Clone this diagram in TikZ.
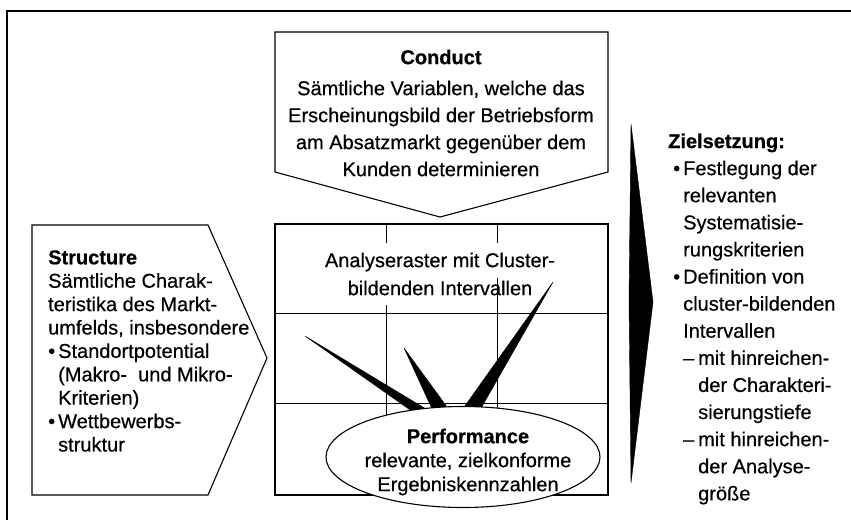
\documentclass[tikz,border=0pt]{standalone}
\usepackage{fontspec}
\setmainfont{Liberation Sans}[FakeBold=0.5, BoldFeatures={FakeBold=0.6}]
\usepackage{tikz}
\usetikzlibrary{shapes.geometric, positioning}

\begin{document}
\begin{tikzpicture}[x=1pt, y=-1pt]
				% Styles
				\tikzstyle{outline} = [draw, line width=1.1pt, line join=miter]
				\tikzstyle{rasterline} = [draw, line width=0.9pt]
				\tikzstyle{spike} = [fill=black, draw=black, line width=0.4pt, line join=round]
				\tikzstyle{txt} = [inner sep=0pt, font=\fontsize{20}{27}\selectfont]
				\tikzstyle{perfshape} = [draw, ellipse, fill=white, line width=1.1pt, minimum width=274pt, minimum height=101pt, inner sep=0pt]

				\useasboundingbox (0,0) rectangle (851,520);

				% Frame
				\draw [line width=1.2pt] (7,520) -- (7,11) -- (851,11);

				% Shapes
				\draw [outline] (275,32) -- (608,32) -- (608,172) -- (440,217) -- (275,172) -- cycle;
				\draw [outline] (32,225) -- (208,225) -- (267,358) -- (208,495) -- (32,495) -- cycle;
				\draw [outline] (275,224) rectangle (608,495);
				\draw [rasterline] (275,313) -- (608,313);
				\draw [rasterline] (275,403) -- (608,403);
				\draw [rasterline] (386,224) -- (386,243);
				\draw [rasterline] (386,305) -- (386,495);
				\draw [rasterline] (497,224) -- (497,243);
				\draw [rasterline] (497,278) -- (497,495);

				% Spikes
				\filldraw [spike] (305,336) -- (431,412) -- (413,412) -- cycle;
				\filldraw [spike] (404,348) -- (450,411) -- (433,411) -- cycle;
				\filldraw [spike] (553,282) -- (480,410) -- (462,410) -- cycle;
				\filldraw [spike] (631,124) -- (653,302) -- (631,483) -- (629,300) -- cycle;

				% Nodes
				\node (perf) [perfshape] at (463,457) {};
				\node (conduct) [txt, align=center] at (441,113) {\textbf{Conduct}\\[4pt]
					Sämtliche Variablen, welche das\\
					Erscheinungsbild der Betriebsform\\
					am Absatzmarkt gegenüber dem\\
					Kunden determinieren};
				\node (structure) [txt, align=left, anchor=west, font=\fontsize{20}{23.4}\selectfont] at (48,351) {\textbf{Structure}\\
					Sämtliche Charak-\\
					teristika des Markt-\\
					umfelds, insbesondere\\
					\makebox[10pt][l]{\textbullet}Standortpotential\\
					\hspace*{10pt}(Makro-\ \ und Mikro-\\
					\hspace*{10pt}Kriterien)\\
					\makebox[10pt][l]{\textbullet}Wettbewerbs-\\
					\hspace*{10pt}struktur};
				\node (raster) [txt, align=center, font=\fontsize{20}{28}\selectfont] at (440,274) {Analyseraster mit Cluster-\\
					bildenden Intervallen};
				\node (perftext) [txt, align=center, font=\fontsize{20}{24}\selectfont] at (468,462) {\textbf{Performance}\\
					relevante, zielkonforme\\
					Ergebniskennzahlen};
				\node (ziel) [txt, align=left, anchor=west, font=\fontsize{20}{27.1}\selectfont] at (668,319) {\textbf{Zielsetzung:}\\
					\hspace*{5pt}\makebox[10pt][l]{\textbullet}Festlegung der\\
					\hspace*{15pt}relevanten\\
					\hspace*{15pt}Systematisie-\\
					\hspace*{15pt}rungskriterien\\
					\hspace*{5pt}\makebox[10pt][l]{\textbullet}Definition von\\
					\hspace*{15pt}cluster-bildenden\\
					\hspace*{15pt}Intervallen\\
					\hspace*{15pt}\makebox[15pt][l]{–}mit hinreichen-\\
					\hspace*{30pt}der Charakteri-\\
					\hspace*{30pt}sierungstiefe\\
					\hspace*{15pt}\makebox[15pt][l]{–}mit hinreichen-\\
					\hspace*{30pt}der Analyse-\\
					\hspace*{30pt}größe};

			\end{tikzpicture}
\end{document}
